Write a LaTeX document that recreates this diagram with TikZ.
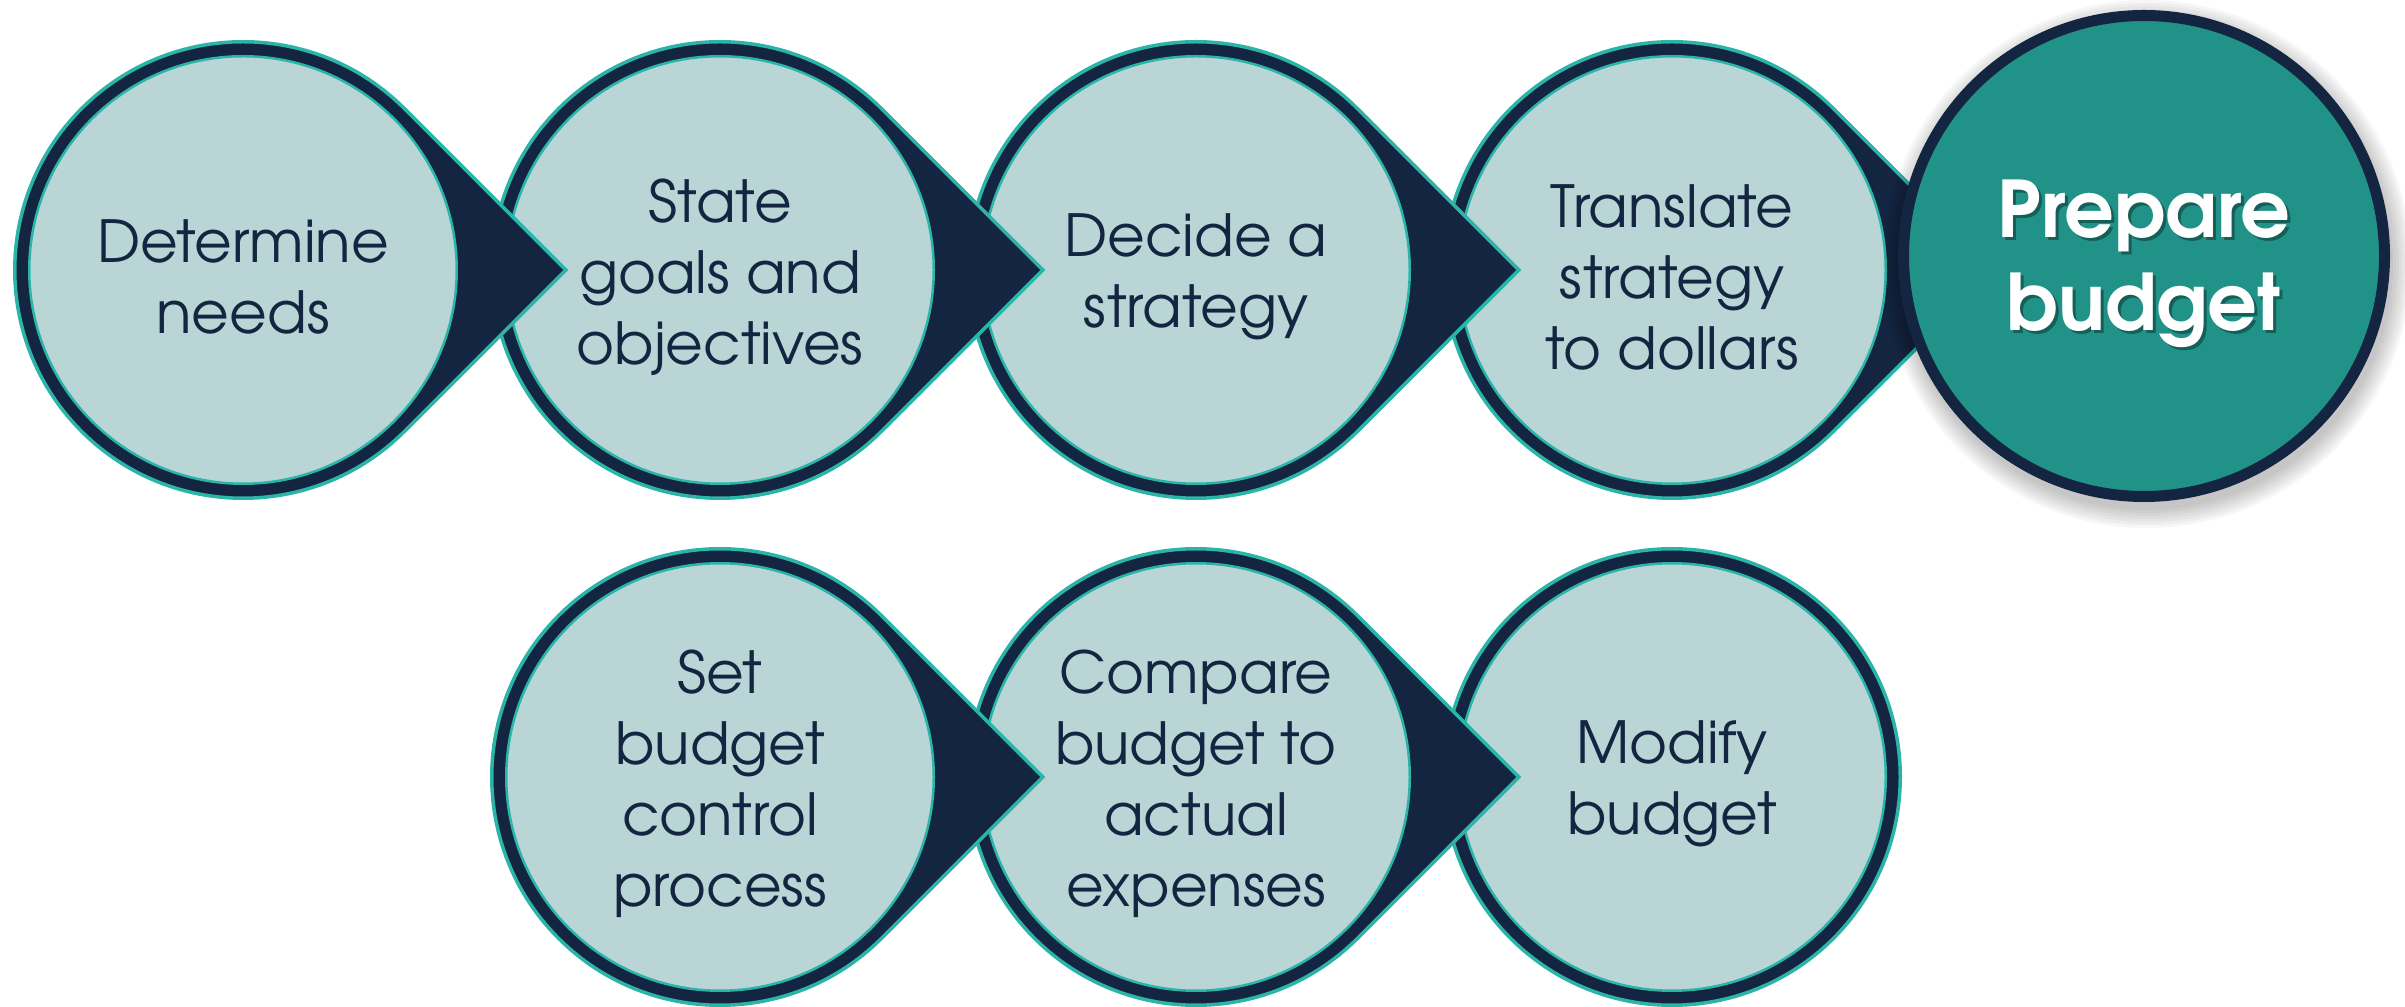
\documentclass[tikz,border=0pt]{standalone}
\usepackage{fontspec}
\setmainfont{TeX Gyre Adventor}
\definecolor{lightfill}{RGB}{186,213,213}
\definecolor{navy}{RGB}{19,37,64}
\definecolor{tealline}{RGB}{43,181,168}
\definecolor{prepfill}{RGB}{33,146,136}
\newcommand\mydrop[2]{%
  \path[dropshape] (#1,#2) ++(45:228.25) arc[start angle=45,end angle=315,radius=228.25]
    -- (#1+322.8,#2) -- cycle;}
\newcommand\myring[2]{%
  \path[dropshape] (#1,#2) circle[radius=228.25];}
\begin{document}
\begin{tikzpicture}[x=1pt,y=1pt,
  stepdisk/.style={circle, fill=lightfill, draw=tealline, line width=2.5pt,
    minimum size=427.5pt, inner sep=0pt},
  steptext/.style={text=navy, align=center, yshift=-7pt,
    font=\fontsize{58}{71}\selectfont},
  dropshape/.style={fill=navy, draw=tealline, line width=3.5pt, line join=miter},
  keydisk/.style={circle, fill=prepfill, draw=navy, line width=11pt,
    minimum size=481pt, inner sep=0pt},
  keytext/.style={align=center, yshift=-8pt, font=\bfseries\fontsize{78}{93.5}\selectfont},
  softshadow/.style={fill=black, opacity=0.035}
]
\useasboundingbox (0,0) rectangle (2405,1006);
% top row (drawn right to left so each arrow lies over the next circle)
\mydrop{1672}{736}
\node[stepdisk] (s4) at (1672,736) {};
\node[steptext] (t4) at (s4) {Translate\\strategy\\to dollars};
\mydrop{1196}{736}
\node[stepdisk] (s3) at (1196,736) {};
\node[steptext] (t3) at (s3) {Decide a\\strategy};
\mydrop{720}{736}
\node[stepdisk] (s2) at (720,736) {};
\node[steptext] (t2) at (s2) {State\\goals and\\objectives};
\mydrop{243}{736}
\node[stepdisk] (s1) at (243,736) {};
\node[steptext] (t1) at (s1) {Determine\\needs};
% highlighted step
\foreach \k in {0,...,6}{
  \fill[softshadow] (2147,742) circle[radius=246+\k*3];
}
\node[keydisk] (s5) at (2144,750) {};
\node[keytext, text=black, opacity=0.35] (s5shadow) at (2147,747) {Prepare\\budget};
\node[keytext, text=white] (s5text) at (s5) {Prepare\\budget};
% bottom row
\myring{1672}{229}
\node[stepdisk] (s8) at (1672,229) {};
\node[steptext] (t8) at (s8) {Modify\\budget};
\mydrop{1196}{229}
\node[stepdisk] (s7) at (1196,229) {};
\node[steptext] (t7) at (s7) {Compare\\budget to\\actual\\expenses};
\mydrop{720}{229}
\node[stepdisk] (s6) at (720,229) {};
\node[steptext] (t6) at (s6) {Set\\budget\\control\\process};
\end{tikzpicture}
\end{document}
